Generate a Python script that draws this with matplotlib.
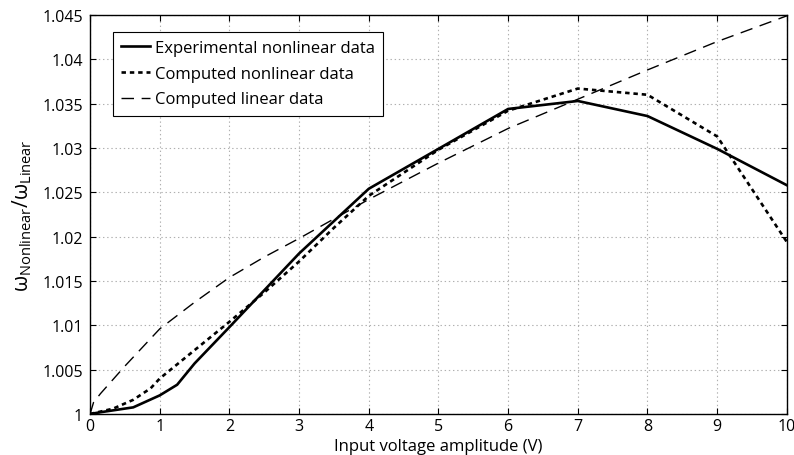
import matplotlib
matplotlib.use("Agg")
import matplotlib.pyplot as plt

plt.rcParams['font.family'] = ['Open Sans', 'DejaVu Sans']
plt.rcParams['mathtext.fontset'] = 'custom'
plt.rcParams['mathtext.rm'] = 'Open Sans'
plt.rcParams['mathtext.it'] = 'Open Sans'
plt.rcParams['lines.scale_dashes'] = False

# Experimental nonlinear data
exp_x = [0, 0.15, 0.62, 1.0, 1.25, 1.5, 2, 3, 4, 5, 6, 7, 8, 9, 10]
exp_y = [1.0, 1.0002, 1.00075, 1.0021, 1.0033, 1.0057, 1.0098, 1.0181, 1.0254,
         1.0299, 1.0344, 1.0353, 1.0336, 1.0299, 1.0258]

# Computed nonlinear data
cnl_x = [0, 0.33, 0.62, 0.87, 1, 1.25, 1.5, 2, 2.5, 3, 3.5, 4, 5, 6, 7, 8, 9, 10]
cnl_y = [1.0, 1.0006, 1.0016, 1.0029, 1.0040, 1.0056, 1.0072, 1.0104, 1.0137,
         1.0172, 1.0210, 1.0246, 1.0298, 1.0342, 1.0367, 1.0360, 1.0313, 1.0194]

# Computed linear data
lin_x = [0, 0.05, 0.15, 0.5, 1, 1.5, 2, 2.5, 3, 4, 5, 6, 7, 8, 9, 10]
lin_y = [1.0, 1.0013, 1.0023, 1.0054, 1.0096, 1.0126, 1.0154, 1.0177, 1.0198,
         1.0242, 1.0283, 1.0322, 1.0355, 1.0388, 1.0420, 1.0449]

labels = ['Experimental nonlinear data', 'Computed nonlinear data', 'Computed linear data']
xticks = list(range(0, 11))
yticks = [1, 1.005, 1.01, 1.015, 1.02, 1.025, 1.03, 1.035, 1.04, 1.045]
ytick_labels = ['1', '1.005', '1.01', '1.015', '1.02', '1.025', '1.03', '1.035', '1.04', '1.045']

fig = plt.figure(figsize=(7.94, 4.56), dpi=100)
ax = fig.add_axes([0.1134, 0.0899, 0.8776, 0.8751])

ax.plot(exp_x, exp_y, color='black', lw=1.9, linestyle='-', label=labels[0])
ax.plot(cnl_x, cnl_y, color='black', lw=1.9, dashes=(3.2, 2.8), label=labels[1])
ax.plot(lin_x, lin_y, color='black', lw=1.0, dashes=(9, 5.5), label=labels[2])

ax.set_xlim(0, 10)
ax.set_ylim(1.0, 1.045)
ax.set_xticks(xticks)
ax.set_xticklabels([str(t) for t in xticks])
ax.set_yticks(yticks)
ax.set_yticklabels(ytick_labels)
ax.tick_params(direction='in', top=True, right=True, labelsize=11.5, length=4,
               width=0.8)
ax.tick_params(axis='y', pad=5)
ax.tick_params(axis='x', pad=3)
ax.grid(True, color='#b0b0b0', linestyle=(0, (1, 2)), linewidth=0.8)
for s in ax.spines.values():
    s.set_linewidth(1.0)

ax.set_xlabel('Input voltage amplitude (V)', fontsize=12, labelpad=3)
ax.set_ylabel(r'$\mathrm{\omega}_{\mathrm{Nonlinear}}/\mathrm{\omega}_{\mathrm{Linear}}$',
              fontsize=15, labelpad=6)

leg = ax.legend(loc='upper left', bbox_to_anchor=(0.033, 0.958), fontsize=12,
                frameon=True, fancybox=False, edgecolor='black', framealpha=1,
                handlelength=1.7, handletextpad=0.3, borderpad=0.5, labelspacing=0.58,
                borderaxespad=0)
leg.get_frame().set_linewidth(0.8)

fig.savefig('out.png', dpi=100)
